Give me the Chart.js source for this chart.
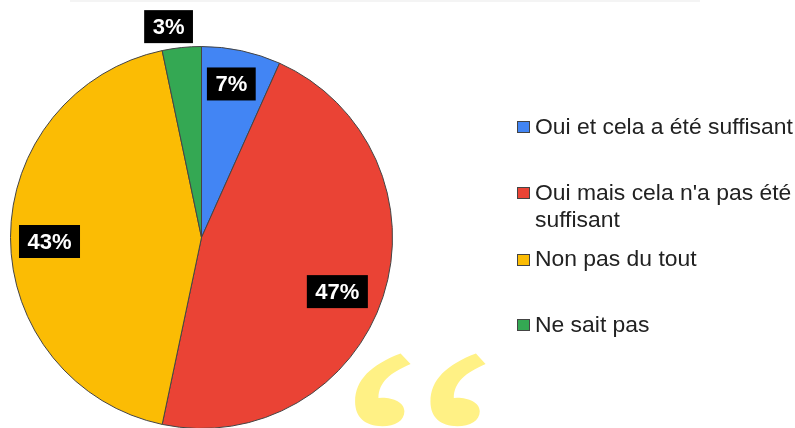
<!DOCTYPE html>
<html>
<head>
<meta charset="utf-8">
<script src="https://cdn.jsdelivr.net/npm/chart.js@4"></script>
<style>
  html, body { margin: 0; padding: 0; background: #fff; overflow: hidden; width: 795px; height: 428px; }
  #topLine { position: absolute; left: 70px; top: 0; width: 630px; height: 2px; background: #f4f4f4; }
  #pie { position: absolute; left: 0; top: 0; filter: blur(0.5px); }
  #quote { position: absolute; left: 331px; top: 315px; color: #fff185; font: 375px/375px "Noto Sans CJK JP", serif; transform-origin: left top; transform: scale(1.02, 0.65); }
</style>
</head>
<body>
<div id="topLine"></div>
<div id="quote" lang="ja">“</div>
<canvas id="pie" width="795" height="440"></canvas>
<script>
const categories = ['Oui et cela a été suffisant', "Oui mais cela n'a pas été suffisant", 'Non pas du tout', 'Ne sait pas'];
const shares = [6.7, 46.6, 43.4, 3.3];
const sliceColors = ['#4285f4', '#ea4335', '#fbbc04', '#34a853'];

// labels sit at a hand-tuned distance from the centre, the small one is outside the pie
const labelRadius = [157, 146, 151, 212];
const labelNudge = [[-3, 0], [-3, 9], [-1, 4], [-11, 0]];

const sliceLabels = {
  id: 'sliceLabels',
  afterDatasetsDraw(chart) {
    const c = chart.ctx;
    const arcs = chart.getDatasetMeta(0).data;
    c.save();
    c.font = 'bold 22px "Liberation Sans", Arial, sans-serif';
    c.textAlign = 'center';
    c.textBaseline = 'middle';
    arcs.forEach((arc, i) => {
      const mid = (arc.startAngle + arc.endAngle) / 2;
      const x = arc.x + Math.cos(mid) * labelRadius[i] + labelNudge[i][0];
      const y = arc.y + Math.sin(mid) * labelRadius[i] + labelNudge[i][1];
      const txt = Math.round(shares[i]) + '%';
      const w = c.measureText(txt).width + 17;
      c.fillStyle = '#000';
      c.fillRect(x - w / 2, y - 16.5, w, 33);
      c.fillStyle = '#fff';
      c.fillText(txt, x, y + 1);
    });
    c.restore();
  }
};

const sideLegend = {
  id: 'sideLegend',
  afterDraw(chart) {
    const c = chart.ctx;
    const rows = [
      { box: 121, lines: [[categories[0], 134]] },
      { box: 187, lines: [["Oui mais cela n'a pas été", 200], ['suffisant', 227]] },
      { box: 254, lines: [[categories[2], 266]] },
      { box: 319, lines: [[categories[3], 332]] }
    ];
    c.save();
    c.font = '22.9px "Liberation Sans", Arial, sans-serif';
    c.textBaseline = 'alphabetic';
    rows.forEach((row, i) => {
      c.fillStyle = sliceColors[i];
      c.strokeStyle = '#444';
      c.lineWidth = 1;
      c.fillRect(517.5, row.box + 0.5, 12, 11);
      c.strokeRect(517.5, row.box + 0.5, 12, 11);
      c.fillStyle = '#222';
      row.lines.forEach(l => c.fillText(l[0], 535, l[1]));
    });
    c.restore();
  }
};

new Chart(document.getElementById('pie'), {
  type: 'pie',
  data: {
    labels: categories,
    datasets: [{
      data: shares,
      backgroundColor: sliceColors,
      borderColor: '#444',
      borderWidth: 1
    }]
  },
  options: {
    responsive: false,
    animation: false,
    layout: { padding: { left: 10, top: 46, right: 402, bottom: 11 } },
    plugins: { legend: { display: false }, tooltip: { enabled: false } }
  },
  plugins: [sliceLabels, sideLegend]
});
</script>
</body>
</html>
